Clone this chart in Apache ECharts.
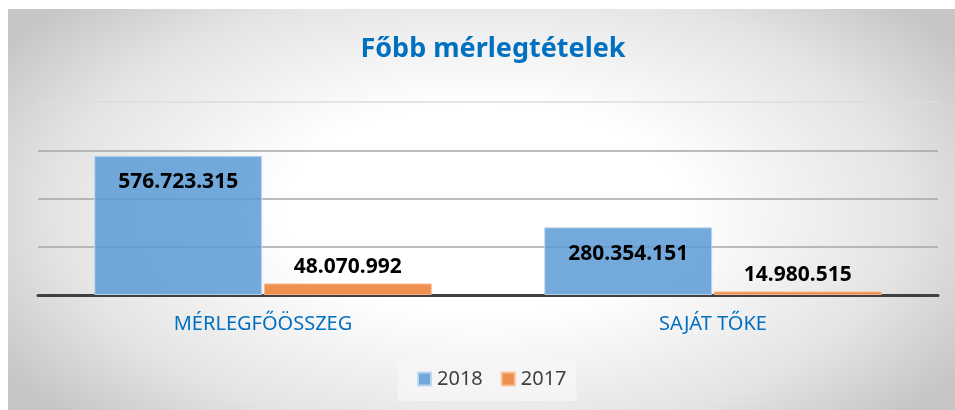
<!DOCTYPE html>
<html>
<head>
<meta charset="utf-8">
<script src="https://cdn.jsdelivr.net/npm/echarts@6/dist/echarts.min.js"></script>
<style>
  html, body { margin: 0; padding: 0; background: #fff; }
  #chart {
    position: absolute; left: 8px; top: 9px; width: 947px; height: 401px;
    background: radial-gradient(ellipse 60% 75% at 50% 50%, #ffffff 35%, #e4e4e4 75%, #c6c6c6 100%);
  }
</style>
</head>
<body>
<div id="chart"></div>
<script>
const categories = ['MÉRLEGFŐÖSSZEG', 'SAJÁT TŐKE'];
const seriesNames = ['2018', '2017'];
const values2018 = [576723315, 280354151];
const values2017 = [48070992, 14980515];

const fmt = (v) => String(v).replace(/\B(?=(\d{3})+(?!\d))/g, '.');

const chart = echarts.init(document.getElementById('chart'));
const option = {
  backgroundColor: 'transparent',
  textStyle: { fontFamily: 'Noto Sans' },
  title: {
    text: 'Főbb mérlegtételek',
    left: 480,
    textAlign: 'center',
    top: 22,
    textStyle: { color: '#0070c0', fontSize: 27, fontWeight: 'bold', fontFamily: 'Noto Sans' }
  },
  legend: {
    data: seriesNames,
    left: 390,
    top: 348,
    icon: 'rect',
    itemWidth: 13,
    itemHeight: 13,
    itemGap: 18,
    padding: [12, 10, 12, 19],
    backgroundColor: 'rgba(245,245,245,0.9)',
    textStyle: { color: '#404040', fontSize: 20, padding: [0, 0, 0, 1] }
  },
  grid: { left: 30, right: 17, top: 93, bottom: 115 },
  xAxis: {
    type: 'category',
    data: categories,
    axisLine: { lineStyle: { color: '#404040', width: 3 } },
    axisTick: { show: false },
    axisLabel: { color: '#0070c0', fontSize: 20, margin: 19 }
  },
  yAxis: {
    type: 'value',
    min: 0,
    max: 800000000,
    interval: 200000000,
    axisLabel: { show: false },
    axisLine: { show: false },
    axisTick: { show: false },
    splitLine: { lineStyle: { color: ['#a6a6a6', '#a6a6a6', '#a6a6a6', '#a6a6a6', '#dcdcdc'], width: 1.5 } }
  },
  series: [
    {
      name: seriesNames[0],
      type: 'bar',
      data: values2018,
      barCategoryGap: '25%',
      barGap: '1%',
      itemStyle: { color: 'rgba(91,155,213,0.85)', borderColor: 'rgba(190,215,240,0.9)', borderWidth: 1 },
      label: {
        show: true,
        position: 'insideTop',
        distance: 16,
        color: '#000',
        fontSize: 21,
        fontWeight: 'bold',
        formatter: (p) => fmt(p.value)
      }
    },
    {
      name: seriesNames[1],
      type: 'bar',
      data: values2017,
      barCategoryGap: '25%',
      barGap: '1%',
      itemStyle: { color: 'rgba(237,125,49,0.85)', borderColor: 'rgba(248,190,150,0.9)', borderWidth: 1 },
      label: {
        show: true,
        position: 'top',
        distance: 6,
        color: '#000',
        fontSize: 21,
        fontWeight: 'bold',
        formatter: (p) => fmt(p.value)
      }
    }
  ]
};
chart.setOption(option);
</script>
</body>
</html>
